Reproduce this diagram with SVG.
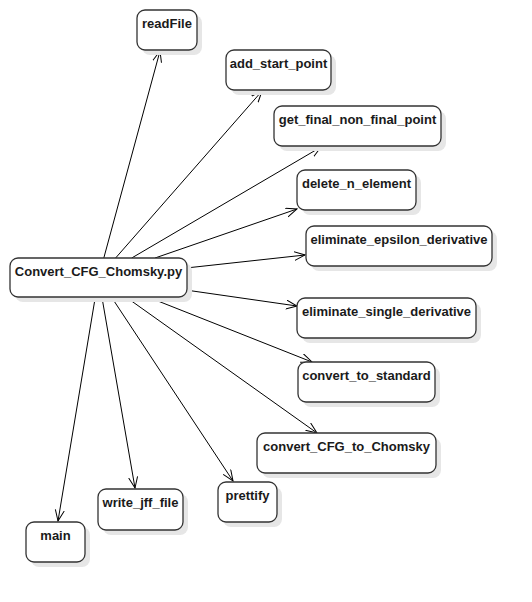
<svg xmlns="http://www.w3.org/2000/svg" width="532" height="602" viewBox="0 0 532 602">
<style>
.box{fill:#ffffff;stroke:#333333;stroke-width:1.3}
.sh{fill:#e6e6e6;stroke:none}
.t{font-family:"Liberation Sans",Arial,sans-serif;font-weight:bold;font-size:13px;fill:#1a1a1a;text-anchor:middle}
.e{stroke:#000000;stroke-width:1;fill:none;marker-end:url(#arr)}
</style>
<defs>
<marker id="arr" markerUnits="userSpaceOnUse" markerWidth="14" markerHeight="12" refX="11" refY="5" orient="auto" viewBox="0 0 14 12">
<path d="M0,0.5 L11,5 L0,9.5" fill="none" stroke="#000" stroke-width="1"/>
</marker>
</defs>
<rect width="532" height="602" fill="#ffffff"/>
<g id="edges">
<line class="e" x1="103.8" y1="258" x2="160" y2="51"/>
<line class="e" x1="115.6" y1="258" x2="262" y2="91"/>
<line class="e" x1="131.7" y1="258" x2="321" y2="147"/>
<line class="e" x1="155" y1="258" x2="297" y2="209"/>
<line class="e" x1="187" y1="267.9" x2="305" y2="255"/>
<line class="e" x1="187" y1="290.2" x2="297" y2="306"/>
<line class="e" x1="147.8" y1="297" x2="312" y2="362"/>
<line class="e" x1="125.9" y1="297" x2="317" y2="433"/>
<line class="e" x1="111.4" y1="297" x2="233" y2="481"/>
<line class="e" x1="101.9" y1="297" x2="135" y2="488"/>
<line class="e" x1="95.3" y1="297" x2="58" y2="521"/>
</g>
<g id="n_main_file">
<rect class="sh" x="15" y="263" width="177" height="39" rx="8"/>
<rect class="box" x="10" y="258" width="177" height="39" rx="8"/>
<text class="t" x="98.5" y="276">Convert_CFG_Chomsky.py</text>
</g>
<g id="n_readFile">
<rect class="sh" x="142" y="15" width="60" height="40" rx="8"/>
<rect class="box" x="137" y="10" width="60" height="40" rx="8"/>
<text class="t" x="167" y="28">readFile</text>
</g>
<g id="n_add_start_point">
<rect class="sh" x="231" y="55" width="105" height="40" rx="8"/>
<rect class="box" x="226" y="50" width="105" height="40" rx="8"/>
<text class="t" x="278.5" y="68">add_start_point</text>
</g>
<g id="n_get_final_non_final_point">
<rect class="sh" x="279" y="111" width="167" height="40" rx="8"/>
<rect class="box" x="274" y="106" width="167" height="40" rx="8"/>
<text class="t" x="357.5" y="124">get_final_non_final_point</text>
</g>
<g id="n_delete_n_element">
<rect class="sh" x="302" y="175" width="119" height="40" rx="8"/>
<rect class="box" x="297" y="170" width="119" height="40" rx="8"/>
<text class="t" x="356.5" y="188">delete_n_element</text>
</g>
<g id="n_eliminate_epsilon_derivative">
<rect class="sh" x="311" y="231" width="186" height="40" rx="8"/>
<rect class="box" x="306" y="226" width="186" height="40" rx="8"/>
<text class="t" x="399" y="244">eliminate_epsilon_derivative</text>
</g>
<g id="n_eliminate_single_derivative">
<rect class="sh" x="302" y="303" width="179" height="40" rx="8"/>
<rect class="box" x="297" y="298" width="179" height="40" rx="8"/>
<text class="t" x="386.5" y="316">eliminate_single_derivative</text>
</g>
<g id="n_convert_to_standard">
<rect class="sh" x="303" y="367" width="137" height="40" rx="8"/>
<rect class="box" x="298" y="362" width="137" height="40" rx="8"/>
<text class="t" x="366.5" y="380">convert_to_standard</text>
</g>
<g id="n_convert_CFG_to_Chomsky">
<rect class="sh" x="262" y="438" width="179" height="40" rx="8"/>
<rect class="box" x="257" y="433" width="179" height="40" rx="8"/>
<text class="t" x="346.5" y="451">convert_CFG_to_Chomsky</text>
</g>
<g id="n_prettify">
<rect class="sh" x="223" y="487" width="59" height="40" rx="8"/>
<rect class="box" x="218" y="482" width="59" height="40" rx="8"/>
<text class="t" x="247.5" y="500">prettify</text>
</g>
<g id="n_write_jff_file">
<rect class="sh" x="103" y="494" width="85" height="41" rx="8"/>
<rect class="box" x="98" y="489" width="85" height="41" rx="8"/>
<text class="t" x="140.5" y="507">write_jff_file</text>
</g>
<g id="n_main">
<rect class="sh" x="31" y="527" width="59" height="40" rx="8"/>
<rect class="box" x="26" y="522" width="59" height="40" rx="8"/>
<text class="t" x="55.5" y="540">main</text>
</g>
</svg>
